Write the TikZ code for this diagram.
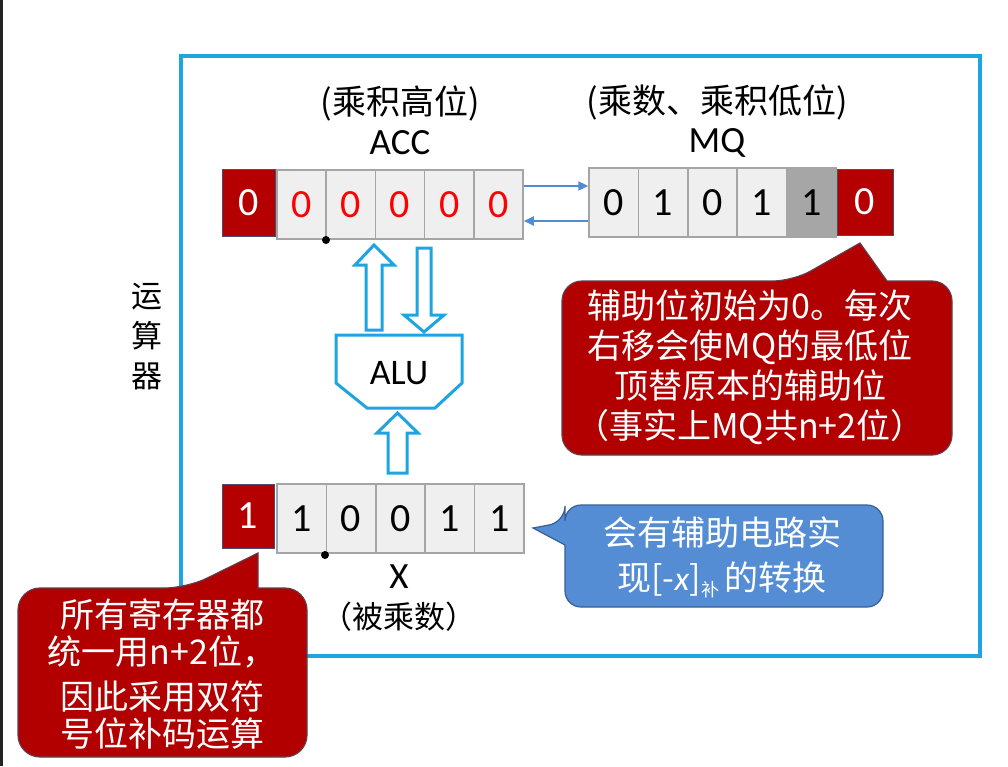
\documentclass[tikz,border=0pt]{standalone}
\usepackage{fontspec}
\setmainfont{Carlito}
\newfontfamily\cjk{Noto Sans CJK SC}
\usetikzlibrary{arrows.meta}
\definecolor{frameblue}{RGB}{30,165,225}
\definecolor{cellgray}{RGB}{239,239,239}
\definecolor{cellline}{RGB}{165,165,165}
\definecolor{darkcell}{RGB}{166,166,166}
\definecolor{boxred}{RGB}{180,0,0}
\definecolor{boxline}{RGB}{70,80,110}
\definecolor{digitred}{RGB}{255,0,0}
\definecolor{linkblue}{RGB}{80,140,210}
\definecolor{calloutblue}{RGB}{84,141,212}
\definecolor{calloutblueline}{RGB}{55,95,150}
\definecolor{calloutred}{RGB}{178,0,0}
\definecolor{calloutredline}{RGB}{100,60,75}
\definecolor{leftbar}{RGB}{35,35,35}
\begin{document}
\begin{tikzpicture}[x=1pt,y=-1pt,
  cell/.style={draw=cellline,fill=cellgray,line width=1.5pt,minimum width=49.3pt,minimum height=69pt,inner sep=0pt,font=\fontsize{40}{40}\selectfont},
  redcell/.style={cell,text=digitred},
  signbox/.style={draw=boxline,fill=boxred,line width=1pt,inner sep=0pt,text=white,font=\fontsize{40}{40}\selectfont},
  label/.style={inner sep=0pt,font=\fontsize{37}{37}\selectfont},
  blockarrow/.style={draw=frameblue,line width=3pt,fill=white,line join=miter},
  link/.style={draw=linkblue,line width=2pt,-{Triangle[length=10pt,width=9pt]}},
  callred/.style={draw=calloutredline,fill=calloutred,line width=1.2pt},
  callblue/.style={draw=calloutblueline,fill=calloutblue,line width=1.2pt},
  calltext/.style={text=white,align=center,inner sep=0pt}]
\useasboundingbox (0,0) rectangle (1008,766);
\fill[white] (0,0) rectangle (1008,766);
\fill[leftbar] (0,0) rectangle (3,766);
% frame
\draw[frameblue,line width=4pt] (181,56) rectangle (980,656);
\node[label,font=\fontsize{31}{40}\selectfont\cjk,align=center] (ysq) at (147,337) {运\\算\\器};
% headings
\node[label,font=\fontsize{34}{34}\selectfont\cjk] (acchd) at (400,103) {(乘积高位)};
\node[label] (acclab) at (400,143) {ACC};
\node[label,font=\fontsize{34}{34}\selectfont\cjk] (mqhd) at (717,102) {(乘数、乘积低位)};
\node[label] (mqlab) at (717,143) {MQ};
% ACC row
\node[signbox,minimum width=53pt,minimum height=67pt] (as) at (248.5,202.5) {0};
\node[redcell] (a1) at (301.6,204.5) {0};
\node[redcell] (a2) at (350.8,204.5) {0};
\node[redcell] (a3) at (400.0,204.5) {0};
\node[redcell] (a4) at (449.2,204.5) {0};
\node[redcell] (a5) at (498.4,204.5) {0};
\fill (326,240) circle (4pt);
% MQ row
\node[cell] (m1) at (613.7,202.5) {0};
\node[cell] (m2) at (663.1,202.5) {1};
\node[cell] (m3) at (712.5,202.5) {0};
\node[cell] (m4) at (761.9,202.5) {1};
\node[cell,fill=darkcell] (m5) at (811.3,202.5) {1};
\node[signbox,minimum width=56pt,minimum height=66pt] (ms) at (865,202) {0};
% links
\coordinate (r1) at (0,186);
\coordinate (r2) at (0,221);
\draw[link] (a5.east |- r1) -- (m1.west |- r1);
\draw[link] (m1.west |- r2) -- (a5.east |- r2);
% ALU and block arrows
\draw[blockarrow] (366,330) -- (366,265) -- (355,265) -- (374,245) -- (394,265) -- (382,265) -- (382,330) -- cycle;
\draw[blockarrow] (417,248) -- (431,248) -- (431,315) -- (444,315) -- (424,332) -- (404,315) -- (417,315) -- cycle;
\draw[blockarrow] (336,335) -- (462,335) -- (462,383) -- (435,408) -- (367,408) -- (336,383) -- cycle;
\node[label,font=\fontsize{36}{36}\selectfont] (alu) at (399,373) {ALU};
\draw[blockarrow] (388,473) -- (388,433) -- (377,433) -- (397.5,413) -- (418,433) -- (407,433) -- (407,473) -- cycle;
% X row
\node[signbox,minimum width=52pt,minimum height=64pt] (xs) at (248,516) {1};
\node[cell] (x1) at (301.7,518.5) {1};
\node[cell] (x2) at (351.1,518.5) {0};
\node[cell] (x3) at (400.5,518.5) {0};
\node[cell] (x4) at (449.9,518.5) {1};
\node[cell] (x5) at (499.3,518.5) {1};
\fill (325,555) circle (4pt);
\node[label] (xlab) at (399,577) {X};
\node[label,font=\fontsize{31}{31}\selectfont\cjk] (xhd) at (399,617) {（被乘数）};
% callout 1
\draw[callred] (562,368) [rounded corners=20pt] -- (562,281) -- (793,281) [sharp corners] -- (860,243) -- (887,281) [rounded corners=20pt] -- (952,281) -- (952,455) -- (562,455) -- cycle;
\node[calltext,font=\fontsize{34}{40}\selectfont\cjk] (note1) at (750,367) {辅助位初始为0。每次\\右移会使MQ的最低位\\顶替原本的辅助位\\（事实上MQ共n+2位）};
% callout 2
\draw[callblue] (724,505) [rounded corners=16pt] -- (565,505) -- (565,522) [sharp corners] -- (533,528) -- (565,545) [rounded corners=16pt] -- (565,607) -- (883,607) -- (883,505) -- cycle;
\node[calltext,font=\fontsize{34}{45}\selectfont\cjk] (note2) at (722,557) {会有辅助电路实\\现[-\textit{\rmfamily x}]\raisebox{-6pt}{\fontsize{18}{18}\selectfont 补}\,的转换};
% callout 3
\draw[callred] (18,670) [rounded corners=22pt] -- (18,588) -- (187,588) [sharp corners] -- (258,553) -- (258,588) [rounded corners=22pt] -- (307,588) -- (307,757) -- (18,757) -- cycle;
\node[calltext,font=\fontsize{34}{37}\selectfont\cjk] (note3) at (162,674) {所有寄存器都\\统一用n+2位，\\[8pt]因此采用双符\\号位补码运算};
\end{tikzpicture}
\end{document}
